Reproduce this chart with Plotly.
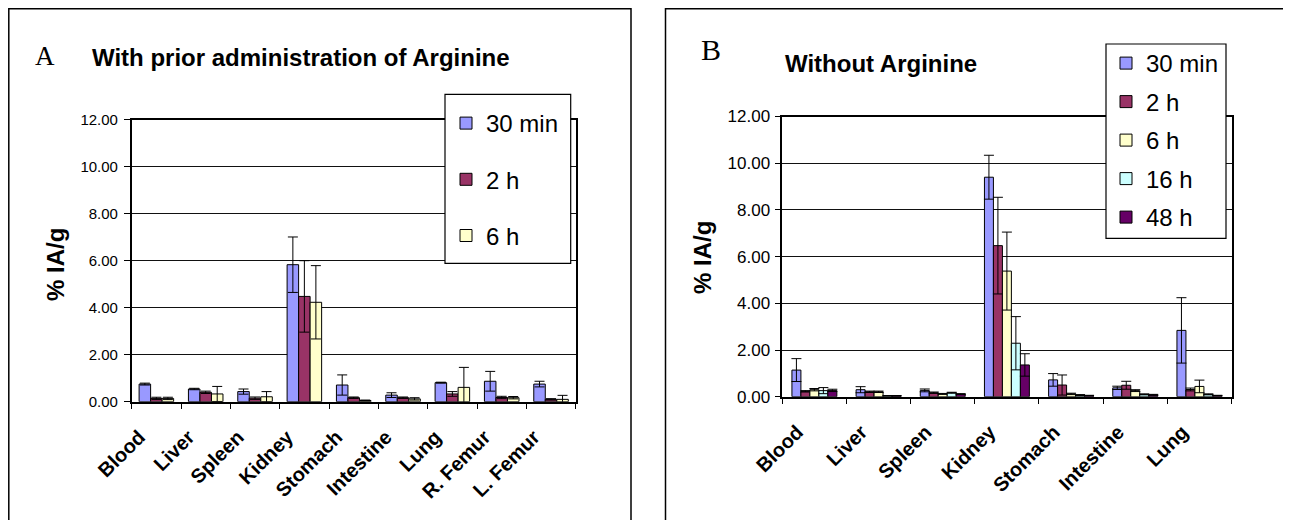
import plotly.graph_objects as go

# ---------------- data ----------------
organs_a = ["Blood", "Liver", "Spleen", "Kidney", "Stomach", "Intestine", "Lung", "R. Femur", "L. Femur"]
a_30min = [0.75, 0.54, 0.43, 5.83, 0.71, 0.28, 0.81, 0.87, 0.75]
a_30min_err = [0.04, 0.03, 0.11, 1.18, 0.43, 0.10, 0.02, 0.42, 0.12]
a_2h = [0.14, 0.40, 0.15, 4.48, 0.17, 0.17, 0.33, 0.18, 0.10]
a_2h_err = [0.05, 0.05, 0.05, 1.52, 0.03, 0.03, 0.10, 0.05, 0.03]
a_6h = [0.14, 0.33, 0.21, 4.23, 0.05, 0.12, 0.61, 0.17, 0.10]
a_6h_err = [0.05, 0.32, 0.22, 1.56, 0.02, 0.05, 0.85, 0.05, 0.17]

organs_b = ["Blood", "Liver", "Spleen", "Kidney", "Stomach", "Intestine", "Lung"]
b_30min = [1.14, 0.30, 0.27, 9.40, 0.72, 0.38, 2.84]
b_30min_err = [0.49, 0.13, 0.06, 0.94, 0.27, 0.07, 1.40]
b_2h = [0.23, 0.21, 0.17, 6.47, 0.50, 0.49, 0.31]
b_2h_err = [0.03, 0.03, 0.03, 2.07, 0.43, 0.17, 0.06]
b_6h = [0.30, 0.21, 0.12, 5.38, 0.12, 0.26, 0.44]
b_6h_err = [0.05, 0.03, 0.02, 1.67, 0.03, 0.04, 0.27]
b_16h = [0.26, 0.04, 0.17, 2.29, 0.07, 0.10, 0.10]
b_16h_err = [0.13, 0.01, 0.02, 1.14, 0.02, 0.02, 0.02]
b_48h = [0.27, 0.04, 0.11, 1.36, 0.05, 0.08, 0.05]
b_48h_err = [0.05, 0.01, 0.02, 0.48, 0.01, 0.02, 0.01]

series_names = ["30 min", "2 h", "6 h", "16 h", "48 h"]
colors = ["#9999FF", "#993366", "#FFFFCC", "#CCFFFF", "#660066"]

y_ticks = [0, 2, 4, 6, 8, 10, 12]
title_a = "With prior administration of Arginine"
title_b = "Without Arginine"
y_title = "% IA/g"

# ---------------- layout helpers ----------------
# The page body has an 8px default margin, so the figure is drawn 8px smaller
# and all page positions are converted into figure-paper coordinates.
OX, OY = 8, 8
FW, FH = 1291 - OX, 520 - OY
SANS = "Liberation Sans, Arial, sans-serif"
SERIF = "Liberation Serif, Times New Roman, serif"

def px(x):
    return (x - OX) / FW

def py(y):
    return 1 - (y - OY) / FH

fig = go.Figure()

series_a = [(a_30min, a_30min_err), (a_2h, a_2h_err), (a_6h, a_6h_err)]
for i, (vals, errs) in enumerate(series_a):
    fig.add_trace(go.Bar(
        x=organs_a, y=vals, name=series_names[i],
        marker=dict(color=colors[i], line=dict(color="black", width=1)),
        error_y=dict(type="data", array=errs, visible=True, color="black", thickness=1, width=5),
        xaxis="x", yaxis="y", legend="legend", legendgroup="a" + str(i),
    ))

series_b = [(b_30min, b_30min_err), (b_2h, b_2h_err), (b_6h, b_6h_err), (b_16h, b_16h_err), (b_48h, b_48h_err)]
for i, (vals, errs) in enumerate(series_b):
    fig.add_trace(go.Bar(
        x=organs_b, y=vals, name=series_names[i],
        marker=dict(color=colors[i], line=dict(color="black", width=1)),
        error_y=dict(type="data", array=errs, visible=True, color="black", thickness=1, width=5),
        xaxis="x2", yaxis="y2", legend="legend2", legendgroup="b" + str(i),
    ))

common_x = dict(
    type="category", showline=True, linecolor="black", linewidth=1.5, mirror=True,
    ticks="outside", ticklen=6, tickcolor="black", tickson="boundaries",
    tickangle=-45, tickfont=dict(family=SANS, size=20, color="black", weight="bold"),
    ticklabelstandoff=14, ticklabelshift=-17,
    showgrid=False, fixedrange=True, automargin=False,
)
common_y = dict(
    range=[0, 12], tickvals=y_ticks, tickformat=".2f",
    showline=True, linecolor="black", linewidth=1.5, mirror=True,
    ticks="outside", ticklen=6, tickcolor="black",
    showgrid=True, gridcolor="#111111", gridwidth=1, zeroline=False,
    fixedrange=True, automargin=False,
)

fig.update_layout(
    width=FW, height=FH,
    autosize=False,
    margin=dict(l=0, r=0, t=0, b=0, pad=0, autoexpand=False),
    paper_bgcolor="white", plot_bgcolor="white",
    barmode="group",
    bargap=0.3,
    showlegend=True,
    xaxis=dict(domain=[px(131.7), px(575.7)], anchor="y", **common_x),
    yaxis=dict(domain=[py(401.7), py(119.7)], anchor="x", ticklabelstandoff=3,
               tickfont=dict(family=SANS, size=15, color="black"), **common_y),
    xaxis2=dict(domain=[px(782.3), px(1231.5)], anchor="y2", **common_x),
    yaxis2=dict(domain=[py(396.7), py(116.5)], anchor="x2", ticklabelstandoff=1,
                tickfont=dict(family=SANS, size=17, color="black"), **common_y),
    legend=dict(
        x=px(446), y=py(101), xanchor="left", yanchor="top",
        bgcolor="rgba(0,0,0,0)", borderwidth=0,
        font=dict(family=SANS, size=24, color="black"),
        traceorder="grouped", tracegroupgap=22,
    ),
    legend2=dict(
        x=px(1106), y=py(41), xanchor="left", yanchor="top",
        bgcolor="rgba(0,0,0,0)", borderwidth=0,
        font=dict(family=SANS, size=24, color="black"),
        traceorder="grouped", tracegroupgap=4.3,
    ),
)

shapes = [
    # panel borders (left/top edges sit at the very edge of the drawable area)
    dict(type="rect", xref="paper", yref="paper", x0=px(8.8), x1=px(631), y0=py(530), y1=py(8.8),
         line=dict(color="black", width=1.5), fillcolor="rgba(0,0,0,0)", layer="above"),
    dict(type="rect", xref="paper", yref="paper", x0=px(665.5), x1=px(1286.5), y0=py(530), y1=py(8.8),
         line=dict(color="black", width=1.5), fillcolor="rgba(0,0,0,0)", layer="above"),
    # legend boxes
    dict(type="rect", xref="paper", yref="paper", x0=px(445), x1=px(570.7), y0=py(263.3), y1=py(94.3),
         line=dict(color="black", width=1.2), fillcolor="white", layer="above"),
    dict(type="rect", xref="paper", yref="paper", x0=px(1106), x1=px(1226), y0=py(238.3), y1=py(44),
         line=dict(color="black", width=1.2), fillcolor="white", layer="above"),
]
fig.update_layout(shapes=shapes)

annotations = [
    dict(text="A", x=px(45), y=py(56), xref="paper", yref="paper", showarrow=False,
         xanchor="center", yanchor="middle", font=dict(family=SERIF, size=27, color="black")),
    dict(text="B", x=px(711), y=py(49), xref="paper", yref="paper", showarrow=False,
         xanchor="center", yanchor="middle", font=dict(family=SERIF, size=30, color="black")),
    dict(text=title_a, x=px(90), y=py(57), xref="paper", yref="paper", showarrow=False,
         xanchor="left", yanchor="middle", font=dict(family=SANS, size=24, color="black", weight="bold")),
    dict(text=title_b, x=px(783), y=py(63), xref="paper", yref="paper", showarrow=False,
         xanchor="left", yanchor="middle", font=dict(family=SANS, size=24, color="black", weight="bold")),
    dict(text=y_title, x=px(55), y=py(265), xref="paper", yref="paper", showarrow=False, textangle=-90,
         xanchor="center", yanchor="middle", font=dict(family=SANS, size=24, color="black", weight="bold")),
    dict(text=y_title, x=px(702), y=py(258), xref="paper", yref="paper", showarrow=False, textangle=-90,
         xanchor="center", yanchor="middle", font=dict(family=SANS, size=24, color="black", weight="bold")),
]
fig.update_layout(annotations=annotations)

fig.write_html("out.html")
